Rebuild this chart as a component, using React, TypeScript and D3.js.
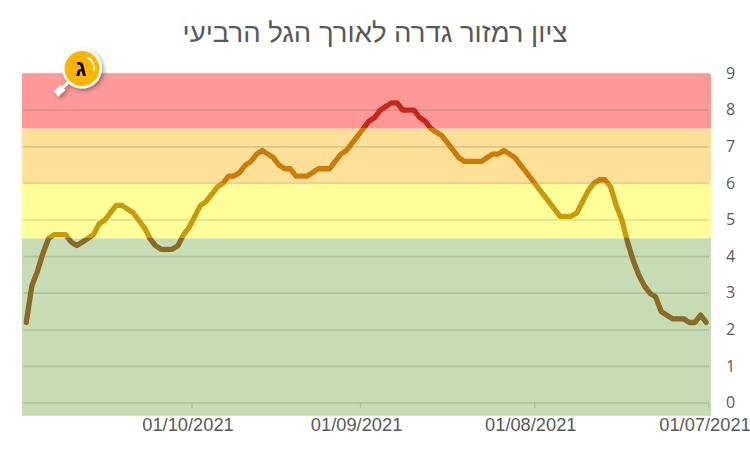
import { useEffect, useRef } from "react";
import * as d3 from "d3";

const width = 750;
const height = 449;

const title = "ציון רמזור גדרה לאורך הגל הרביעי";
const badgeLetter = "ג";

// one reading per day, starting on the first date, newest last
const firstDay = "2021-07-01";
const scores = [
  2.2, 2.4, 2.2, 2.2, 2.3, 2.3, 2.3, 2.4, 2.5, 2.9,
  3.0, 3.2, 3.5, 3.9, 4.4, 5.0, 5.4, 5.9, 6.1, 6.1,
  6.0, 5.8, 5.5, 5.2, 5.1, 5.1, 5.1, 5.3, 5.5, 5.7,
  5.9, 6.1, 6.3, 6.5, 6.7, 6.8, 6.9, 6.8, 6.8, 6.7,
  6.6, 6.6, 6.6, 6.6, 6.7, 6.9, 7.1, 7.3, 7.4, 7.5,
  7.7, 7.8, 8.0, 8.0, 8.0, 8.2, 8.2, 8.1, 8.0, 7.8,
  7.7, 7.5, 7.3, 7.1, 6.9, 6.8, 6.6, 6.4, 6.4, 6.4,
  6.3, 6.2, 6.2, 6.2, 6.4, 6.4, 6.5, 6.7, 6.8, 6.9,
  6.8, 6.6, 6.5, 6.3, 6.2, 6.2, 6.0, 5.9, 5.7, 5.5,
  5.4, 5.1, 4.8, 4.6, 4.3, 4.2, 4.2, 4.2, 4.3, 4.5,
  4.8, 5.0, 5.2, 5.3, 5.4, 5.4, 5.2, 5.0, 4.9, 4.6,
  4.5, 4.4, 4.3, 4.4, 4.6, 4.6, 4.6, 4.5, 4.1, 3.6,
  3.2, 2.2,
];

const yTicks = [0, 1, 2, 3, 4, 5, 6, 7, 8, 9];
const xTicks = ["2021-07-01", "2021-08-01", "2021-09-01", "2021-10-01"];

const bandEdges = [-0.35, 4.5, 6, 7.5, 9];
const bandColors = ["#c5dcb4", "#ffff99", "#fee099", "#ff9999"];
const lineColors = ["#8a6a24", "#c99a0a", "#c97d08", "#c4281a"];

const parseDay = d3.utcParse("%Y-%m-%d");
const formatDay = d3.utcFormat("%d/%m/%Y");

export default function App() {
  const ref = useRef<SVGSVGElement>(null);

  useEffect(() => {
    const svg = d3.select(ref.current!);
    svg.selectAll("*").remove();

    const start = parseDay(firstDay)!;
    const x = d3
      .scaleUtc()
      .domain([start, parseDay("2021-10-01")!])
      .range([709, 192]);
    const y = d3.scaleLinear().domain([0, 9]).range([403, 73.6]);

    const plotLeft = 22;
    const plotRight = 711;

    svg
      .append("text")
      .attr("x", 375)
      .attr("y", 42)
      .attr("text-anchor", "middle")
      .attr("direction", "rtl")
      .attr("font-family", "'Liberation Sans', sans-serif")
      .attr("font-size", 27.5)
      .attr("fill", "#595959")
      .text(title);

    svg
      .append("g")
      .selectAll("rect")
      .data(bandColors)
      .join("rect")
      .attr("x", plotLeft)
      .attr("width", plotRight - plotLeft)
      .attr("y", (_, i) => y(bandEdges[i + 1]))
      .attr("height", (_, i) => y(bandEdges[i]) - y(bandEdges[i + 1]))
      .attr("fill", (d) => d);

    svg
      .append("g")
      .selectAll("line")
      .data(yTicks)
      .join("line")
      .attr("x1", 23)
      .attr("x2", 709)
      .attr("y1", (d) => y(d))
      .attr("y2", (d) => y(d))
      .attr("stroke", "#5a5a3c")
      .attr("stroke-opacity", 0.2)
      .attr("stroke-width", 1.7);

    // small ticks under the zero line
    svg
      .append("g")
      .selectAll("line")
      .data(xTicks)
      .join("line")
      .attr("x1", (d) => x(parseDay(d)!))
      .attr("x2", (d) => x(parseDay(d)!))
      .attr("y1", y(0))
      .attr("y2", y(0) + 5)
      .attr("stroke", "#5a5a3c")
      .attr("stroke-opacity", 0.2)
      .attr("stroke-width", 1.3);

    // line colour changes at the band edges
    const defs = svg.append("defs");
    const gradient = defs
      .append("linearGradient")
      .attr("id", "scoreGradient")
      .attr("gradientUnits", "userSpaceOnUse")
      .attr("x1", 0)
      .attr("x2", 0)
      .attr("y1", y(bandEdges[0]))
      .attr("y2", y(9));
    const share = d3
      .scaleLinear()
      .domain([bandEdges[0], 9])
      .range([0, 1]);
    lineColors.forEach((color, i) => {
      gradient
        .append("stop")
        .attr("offset", share(bandEdges[i]))
        .attr("stop-color", color);
      gradient
        .append("stop")
        .attr("offset", share(bandEdges[i + 1]))
        .attr("stop-color", color);
    });

    const line = d3
      .line<number>()
      .x((_, i) => x(d3.utcHour.offset(d3.utcDay.offset(start, i), 12)))
      .y((d) => y(d));

    svg
      .append("path")
      .attr("d", line(scores))
      .attr("fill", "none")
      .attr("stroke", "url(#scoreGradient)")
      .attr("stroke-width", 5.3)
      .attr("stroke-linecap", "round")
      .attr("stroke-linejoin", "round");

    const yAxis = svg
      .append("g")
      .attr("transform", "translate(724,-0.5)")
      .call(
        d3
          .axisRight(y)
          .tickValues(yTicks)
          .tickSize(0)
          .tickPadding(2)
          .tickFormat((d) => String(d))
      );
    yAxis.select(".domain").remove();
    yAxis
      .selectAll("text")
      .attr("font-family", "'Open Sans', sans-serif")
      .attr("font-size", 16)
      .attr("fill", "#595959");

    const xAxis = svg
      .append("g")
      .attr("transform", "translate(-4.5,418)")
      .call(
        d3
          .axisBottom(x)
          .tickValues(xTicks.map((d) => parseDay(d)!))
          .tickSize(0)
          .tickPadding(0)
          .tickFormat((d) => formatDay(d as Date))
      );
    xAxis.select(".domain").remove();
    xAxis
      .selectAll("text")
      .attr("font-family", "'Liberation Sans', sans-serif")
      .attr("font-size", 18.3)
      .attr("fill", "#595959");

    // magnifying glass badge
    const shadow = defs
      .append("filter")
      .attr("id", "badgeShadow")
      .attr("x", "-50%")
      .attr("y", "-50%")
      .attr("width", "200%")
      .attr("height", "200%");
    shadow
      .append("feDropShadow")
      .attr("dx", 2)
      .attr("dy", 2)
      .attr("stdDeviation", 2)
      .attr("flood-color", "#000")
      .attr("flood-opacity", 0.35);

    const badge = svg
      .append("g")
      .attr("transform", "translate(82,68.5)")
      .attr("filter", "url(#badgeShadow)");
    badge
      .append("line")
      .attr("x1", -14)
      .attr("y1", 14)
      .attr("x2", -19)
      .attr("y2", 19)
      .attr("stroke", "#fff")
      .attr("stroke-width", 2.5);
    badge
      .append("line")
      .attr("x1", -19)
      .attr("y1", 19)
      .attr("x2", -26)
      .attr("y2", 25.5)
      .attr("stroke", "#fff")
      .attr("stroke-width", 7);
    badge.append("circle").attr("r", 20).attr("fill", "#fff");
    badge.append("circle").attr("r", 17.5).attr("fill", "#ffb400");
    badge
      .append("path")
      .attr("d", d3.arc()({
        innerRadius: 11.5,
        outerRadius: 13,
        startAngle: 0.35,
        endAngle: 1.75,
      }))
      .attr("fill", "#fff");
    badge
      .append("text")
      .attr("y", 7.5)
      .attr("x", -1)
      .attr("text-anchor", "middle")
      .attr("font-family", "'Liberation Sans', sans-serif")
      .attr("font-weight", "bold")
      .attr("font-size", 23)
      .attr("fill", "#000")
      .text(badgeLetter);
  }, []);

  return (
    <svg
      ref={ref}
      width={width}
      height={height}
      style={{ position: "absolute", left: 0, top: 0, display: "block", background: "#fff" }}
    />
  );
}
